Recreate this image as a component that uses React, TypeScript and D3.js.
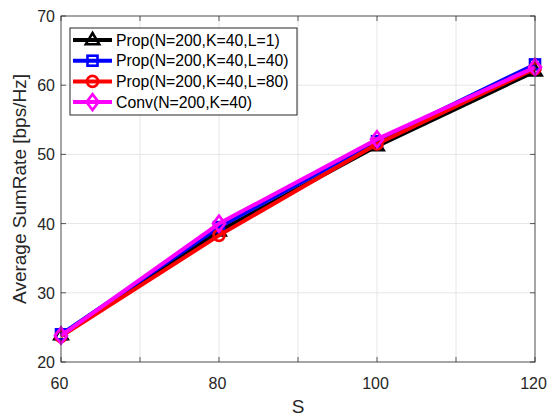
import React from "react";
import * as d3 from "d3";

const sValues = [60, 80, 100, 120];
const propL1 = [23.9, 38.9, 51.2, 62.0];
const propL40 = [24.0, 39.5, 51.9, 63.0];
const propL80 = [23.7, 38.3, 51.5, 62.4];
const conv = [23.8, 40.0, 52.2, 62.6];
const xTicks = [60, 80, 100, 120];
const xGrid = [60, 70, 80, 90, 100, 110, 120];
const yTicks = [20, 30, 40, 50, 60, 70];

const seriesNames = [
  "Prop(N=200,K=40,L=1)",
  "Prop(N=200,K=40,L=40)",
  "Prop(N=200,K=40,L=80)",
  "Conv(N=200,K=40)",
];
const seriesColors = ["#000000", "#0000ff", "#ff0000", "#ff00ff"];
const seriesMarkers = ["triangle", "square", "circle", "diamond"];
const seriesValues = [propL1, propL40, propL80, conv];

const W = 547;
const H = 416;
const margin = { top: 16, right: 12, bottom: 54, left: 61 };
const axisColor = "#262626";
const font = "'Liberation Sans', Arial, Helvetica, sans-serif";

function Marker({ kind, x, y, color }: { kind: string; x: number; y: number; color: string }) {
  const sw = 2.6;
  if (kind === "triangle") {
    const r = 7;
    const pts = [
      [x, y - r],
      [x + r * 0.95, y + r * 0.6],
      [x - r * 0.95, y + r * 0.6],
    ];
    return <polygon points={pts.map((p) => p.join(",")).join(" ")} fill="none" stroke={color} strokeWidth={sw} />;
  }
  if (kind === "square") {
    return <rect x={x - 5} y={y - 5} width={10} height={10} fill="none" stroke={color} strokeWidth={sw} />;
  }
  if (kind === "circle") {
    return <circle cx={x} cy={y} r={5.5} fill="none" stroke={color} strokeWidth={sw} />;
  }
  const r = 8;
  const pts = [
    [x, y - r],
    [x + r * 0.75, y],
    [x, y + r],
    [x - r * 0.75, y],
  ];
  return <polygon points={pts.map((p) => p.join(",")).join(" ")} fill="none" stroke={color} strokeWidth={sw} />;
}

export default function App() {
  const x = d3.scaleLinear().domain([60, 120]).range([margin.left, W - margin.right]);
  const y = d3.scaleLinear().domain([20, 70]).range([H - margin.bottom, margin.top]);
  const line = d3
    .line<number>()
    .x((_, i) => x(sValues[i]))
    .y((d) => y(d));

  const x0 = x.range()[0];
  const x1 = x.range()[1];
  const y0 = y.range()[0];
  const y1 = y.range()[1];

  // legend geometry
  const lg = { left: 70, top: 28, width: 227, height: 87, row: 20.7 };

  return (
    <svg
      width={W}
      height={H}
      style={{ position: "absolute", left: 0, top: 0, background: "#fff" }}
      fontFamily={font}
    >
      <rect x={0} y={0} width={W} height={H} fill="#fff" />
      {/* grid */}
      {xGrid.map((t) => (
        <line key={"gx" + t} x1={x(t)} x2={x(t)} y1={y0} y2={y1} stroke="#e6e6e6" strokeWidth={1} />
      ))}
      {yTicks.map((t) => (
        <line key={"gy" + t} x1={x0} x2={x1} y1={y(t)} y2={y(t)} stroke="#e6e6e6" strokeWidth={1} />
      ))}

      {/* series */}
      {seriesValues.map((vals, si) => (
        <g key={"s" + si}>
          <path d={line(vals) || ""} fill="none" stroke={seriesColors[si]} strokeWidth={4} strokeLinejoin="round" />
          {vals.map((v, i) => (
            <Marker key={i} kind={seriesMarkers[si]} x={x(sValues[i])} y={y(v)} color={seriesColors[si]} />
          ))}
        </g>
      ))}

      {/* axes box */}
      <rect x={x0} y={y1} width={x1 - x0} height={y0 - y1} fill="none" stroke={axisColor} strokeWidth={1} opacity={0.75} />
      {xGrid.map((t) => (
        <g key={"tx" + t} stroke={axisColor} opacity={0.75}>
          <line x1={x(t)} x2={x(t)} y1={y0} y2={y0 - 5} />
          <line x1={x(t)} x2={x(t)} y1={y1} y2={y1 + 5} />
        </g>
      ))}
      {yTicks.map((t) => (
        <g key={"ty" + t} stroke={axisColor} opacity={0.75}>
          <line x1={x0} x2={x0 + 5} y1={y(t)} y2={y(t)} />
          <line x1={x1} x2={x1 - 5} y1={y(t)} y2={y(t)} />
        </g>
      ))}

      {/* tick labels */}
      {xTicks.map((t) => (
        <text key={"lx" + t} x={x(t) - 1.5} y={y0 + 27} textAnchor="middle" fontSize={16} fill={axisColor}>
          {t}
        </text>
      ))}
      {yTicks.map((t) => (
        <text key={"ly" + t} x={x0 - 6} y={y(t) + 6} textAnchor="end" fontSize={16} fill={axisColor}>
          {t}
        </text>
      ))}

      {/* axis labels */}
      <text x={(x0 + x1) / 2} y={413} textAnchor="middle" fontSize={19} fill={axisColor}>
        S
      </text>
      <text
        transform={`translate(26,${(y0 + y1) / 2}) rotate(-90)`}
        textAnchor="middle"
        fontSize={19}
        fill={axisColor}
      >
        Average SumRate [bps/Hz]
      </text>

      {/* legend */}
      <rect x={lg.left} y={lg.top} width={lg.width} height={lg.height} fill="#fff" stroke={axisColor} strokeWidth={1} />
      {seriesNames.map((name, i) => {
        const cy = lg.top + 12 + i * lg.row;
        return (
          <g key={"lg" + i}>
            <line x1={lg.left + 3} x2={lg.left + 42} y1={cy} y2={cy} stroke={seriesColors[i]} strokeWidth={4} />
            <Marker kind={seriesMarkers[i]} x={lg.left + 22.5} y={cy} color={seriesColors[i]} />
            <text x={lg.left + 46} y={cy + 5.5} fontSize={15.8} fill="#000">
              {name}
            </text>
          </g>
        );
      })}
    </svg>
  );
}
